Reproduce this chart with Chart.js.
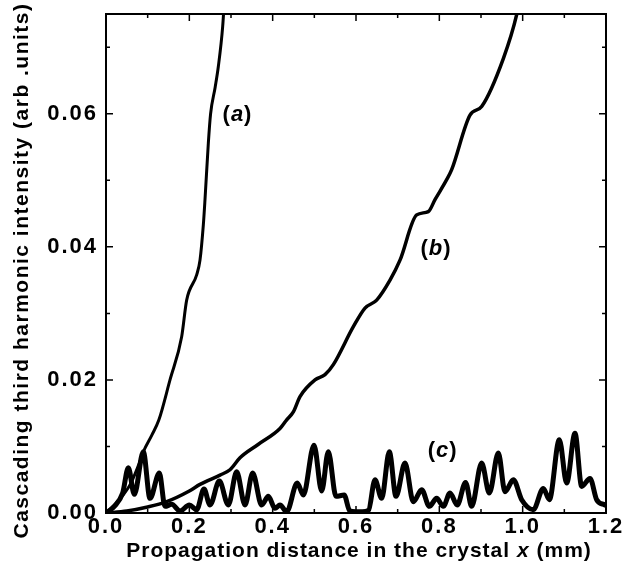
<!DOCTYPE html>
<html>
<head>
<meta charset="utf-8">
<script src="https://cdn.jsdelivr.net/npm/chart.js@4.4.1/dist/chart.umd.min.js"></script>
<style>
  html, body { margin: 0; padding: 0; background: #fff; }
</style>
</head>
<body>
<canvas id="thgChart" width="643" height="572"></canvas>
<script>
// curve (a)
const aDist = [0, 0.02, 0.04, 0.06, 0.08, 0.0896, 0.11, 0.127, 0.1536, 0.1816, 0.1936, 0.2176, 0.2256, 0.2336, 0.2376, 0.2456, 0.251, 0.262, 0.2696, 0.28, 0.285];
const aInt  = [0, 0.0012, 0.0026, 0.0045, 0.0075, 0.0092, 0.0117, 0.014, 0.02, 0.0265, 0.032, 0.0358, 0.038, 0.0433, 0.0471, 0.0556, 0.06, 0.064, 0.0671, 0.0731, 0.078];

// curve (b)
const bDist = [0, 0.05, 0.1, 0.1456, 0.2, 0.2256, 0.2736, 0.2976, 0.3216, 0.365, 0.4176, 0.4336, 0.4496, 0.4656, 0.5016, 0.5256, 0.5456, 0.5936, 0.6216, 0.6496, 0.6816, 0.7056, 0.7456, 0.7736, 0.7896, 0.8176, 0.8296, 0.8736, 0.9016, 0.9536, 0.9856, 0.995];
const bInt  = [0, 0.0003, 0.0009, 0.0017, 0.0033, 0.0043, 0.0057, 0.0065, 0.0083, 0.0103, 0.0127, 0.014, 0.0152, 0.0175, 0.02, 0.0208, 0.0223, 0.028, 0.0308, 0.032, 0.035, 0.038, 0.0448, 0.0453, 0.0471, 0.0501, 0.0516, 0.0598, 0.0611, 0.0683, 0.0749, 0.078];

// curve (c), oscillating
const cDist = [0, 0.02, 0.04, 0.0536, 0.068, 0.0896, 0.1056, 0.128, 0.1416, 0.1576, 0.1776, 0.2, 0.2176, 0.2352, 0.2496, 0.272, 0.2936, 0.3136, 0.3336, 0.352, 0.3736, 0.3896, 0.4056, 0.4176, 0.4336, 0.459, 0.4736, 0.4992, 0.5176, 0.5336, 0.552, 0.5716, 0.585, 0.6, 0.615, 0.63, 0.6456, 0.6616, 0.68, 0.696, 0.7176, 0.7376, 0.7576, 0.776, 0.7936, 0.8096, 0.8256, 0.843, 0.863, 0.8776, 0.9016, 0.92, 0.9416, 0.9576, 0.9776, 0.9976, 1.0256, 1.0496, 1.064, 1.088, 1.1056, 1.1256, 1.1416, 1.1616, 1.1776, 1.1976];
const cInt  = [0, 0.001, 0.003, 0.0068, 0.0028, 0.0092, 0.0022, 0.006, 0.001, 0.0013, 0.0003, 0.0012, 0.0005, 0.0036, 0.0012, 0.0048, 0.0012, 0.0062, 0.0012, 0.006, 0.0012, 0.0025, 0.0007, 0.0012, 0.0002, 0.0045, 0.0027, 0.0102, 0.0033, 0.0092, 0.0025, 0.0027, 0.0003, 0.0002, 0.0002, 0.0004, 0.005, 0.0022, 0.0092, 0.0025, 0.0075, 0.0017, 0.0035, 0.001, 0.0022, 0.001, 0.003, 0.0012, 0.0046, 0.001, 0.0075, 0.003, 0.009, 0.0032, 0.005, 0.002, 0.0005, 0.0037, 0.002, 0.011, 0.0045, 0.012, 0.004, 0.0052, 0.002, 0.0012];

const curveLabels = [
    {letter: "a", x: 0.3156, y: 0.0598},
    {letter: "b", x: 0.792, y: 0.0397},
    {letter: "c", x: 0.808, y: 0.0093}
];

const xTicks = {min: 0, max: 1.2, major: 0.2, minor: 0.1};
const yTicks = {min: 0, max: 0.075, major: 0.02, minor: 0.01};

const toPoints = (xs, ys) => xs.map((x, i) => ({x: x, y: ys[i]}));

const FONT = "'Liberation Sans', Arial, sans-serif";

// frame, inward ticks, titles and curve labels
const decorations = {
    id: "decorations",
    beforeDraw(chart) {
        chart.ctx.letterSpacing = "2px";
    },
    afterDraw(chart) {
        const ctx = chart.ctx;
        const area = chart.chartArea;
        const xs = chart.scales.x, ys = chart.scales.y;
        ctx.save();
        ctx.letterSpacing = "0px";
        ctx.strokeStyle = "#000";
        ctx.lineWidth = 2;
        ctx.strokeRect(area.left, area.top, area.right - area.left, area.bottom - area.top);

        ctx.lineWidth = 1.5;
        ctx.beginPath();
        for (let v = xTicks.min; v <= xTicks.max + 1e-9; v += xTicks.minor) {
            const isMajor = Math.abs(v / xTicks.major - Math.round(v / xTicks.major)) < 1e-6;
            const len = isMajor ? 7 : 4;
            const px = xs.getPixelForValue(v);
            ctx.moveTo(px, area.bottom); ctx.lineTo(px, area.bottom - len);
            ctx.moveTo(px, area.top); ctx.lineTo(px, area.top + len);
        }
        for (let v = yTicks.min; v <= yTicks.max + 1e-9; v += yTicks.minor) {
            const isMajor = Math.abs(v / yTicks.major - Math.round(v / yTicks.major)) < 1e-6;
            const len = isMajor ? 7 : 4;
            const py = ys.getPixelForValue(v);
            ctx.moveTo(area.left, py); ctx.lineTo(area.left + len, py);
            ctx.moveTo(area.right, py); ctx.lineTo(area.right - len, py);
        }
        ctx.stroke();

        // curve labels
        ctx.fillStyle = "#000";
        ctx.textBaseline = "middle";
        curveLabels.forEach(l => {
            const cx = xs.getPixelForValue(l.x), cy = ys.getPixelForValue(l.y);
            const parts = [
                {t: "(", f: "bold 22px " + FONT},
                {t: l.letter, f: "italic bold 22px " + FONT},
                {t: ")", f: "bold 22px " + FONT}
            ];
            let total = 0;
            parts.forEach(p => { ctx.font = p.f; p.w = ctx.measureText(p.t).width + 1; total += p.w; });
            let x0 = cx - total / 2;
            ctx.textAlign = "left";
            parts.forEach(p => { ctx.font = p.f; ctx.fillText(p.t, x0, cy); x0 += p.w; });
        });

        // x title with italic x
        const xParts = [
            {t: "Propagation distance in the crystal ", f: "bold 21px " + FONT},
            {t: "x", f: "italic bold 21px " + FONT},
            {t: " (mm)", f: "bold 21px " + FONT}
        ];
        ctx.letterSpacing = "1px";
        let tw = 0;
        xParts.forEach(p => { ctx.font = p.f; p.w = ctx.measureText(p.t).width; tw += p.w; });
        let tx = (area.left + area.right) / 2 + 3 - tw / 2;
        xParts.forEach(p => { ctx.font = p.f; ctx.fillText(p.t, tx, 551); tx += p.w; });

        // y title
        ctx.translate(22, (area.top + area.bottom) / 2 + 7);
        ctx.rotate(-Math.PI / 2);
        ctx.textAlign = "center";
        ctx.letterSpacing = "1.5px";
        ctx.font = "bold 21px " + FONT;
        ctx.fillText("Cascading third harmonic intensity (arb .units)", 0, 0);
        ctx.restore();
    }
};

const lineStyle = (w) => ({
    borderColor: "#000",
    borderWidth: w,
    pointRadius: 0,
    fill: false,
    cubicInterpolationMode: "monotone",
    borderCapStyle: "round",
    borderJoinStyle: "round"
});

const chart = new Chart(document.getElementById("thgChart"), {
    type: "line",
    data: {
        datasets: [
            Object.assign({label: "(a)", data: toPoints(aDist, aInt)}, lineStyle(3)),
            Object.assign({label: "(b)", data: toPoints(bDist, bInt)}, lineStyle(3.5)),
            Object.assign({label: "(c)", data: toPoints(cDist, cInt)}, lineStyle(5))
        ]
    },
    options: {
        responsive: false,
        animation: false,
        devicePixelRatio: 1,
        layout: {padding: {left: 0, right: 37, top: 14, bottom: 0}},
        plugins: {legend: {display: false}, tooltip: {enabled: false}},
        scales: {
            x: {
                type: "linear",
                min: xTicks.min, max: xTicks.max,
                grid: {display: false, drawTicks: false},
                border: {display: false},
                ticks: {
                    stepSize: xTicks.major,
                    padding: 1,
                    color: "#000",
                    maxRotation: 0,
                    font: {family: FONT, size: 22, weight: "bold"},
                    callback: v => v.toFixed(1)
                },
                afterFit: s => { s.height = 59; s.paddingLeft = 0; s.paddingRight = 0; }
            },
            y: {
                type: "linear",
                min: yTicks.min, max: yTicks.max,
                grid: {display: false, drawTicks: false},
                border: {display: false},
                ticks: {
                    stepSize: yTicks.major,
                    includeBounds: false,
                    padding: 8,
                    color: "#000",
                    font: {family: FONT, size: 22, weight: "bold"},
                    callback: v => v.toFixed(2)
                },
                afterFit: s => { s.width = 106; s.paddingTop = 0; s.paddingBottom = 0; }
            }
        }
    },
    plugins: [decorations]
});
</script>
</body>
</html>
